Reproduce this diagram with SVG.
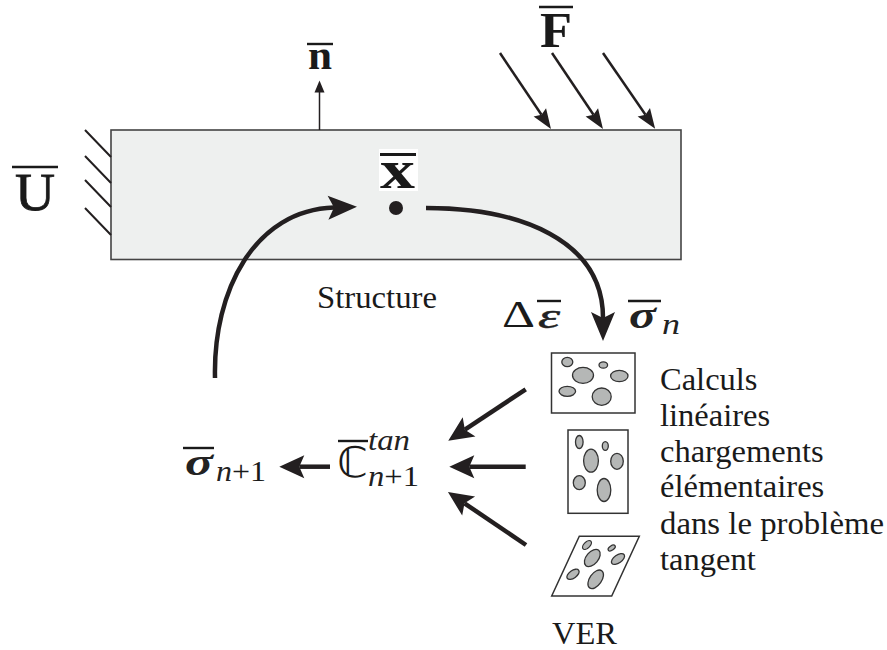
<svg xmlns="http://www.w3.org/2000/svg" width="887" height="650" viewBox="0 0 887 650">
<style>
text{font-family:"Liberation Serif","Times New Roman",serif;fill:#1a1a1a}
.lab{font-size:32.500px}
.bar{stroke:#1a1a1a;stroke-width:2.4;fill:none}
.bold{font-weight:bold}
.mi{font-style:italic;fill:#222}
.thick{stroke:#231f20;stroke-width:4.500;fill:none}
.force{stroke:#231f20;stroke-width:2.500;fill:none}
.hatch{stroke:#231f20;stroke-width:2;fill:none}
.cell{fill:#fff;stroke:#333;stroke-width:1.500}
.inc{fill:#b5b7b6;stroke:#333;stroke-width:1.300}
</style>
<defs>
<marker id="big" markerUnits="userSpaceOnUse" markerWidth="25" markerHeight="24" refX="5" refY="12" orient="auto" overflow="visible"><path d="M25,12 L0,0.500 L5,12 L0,23.500Z" fill="#231f20"/></marker>
<marker id="bigger" markerUnits="userSpaceOnUse" markerWidth="29" markerHeight="25" refX="6" refY="12.500" orient="auto" overflow="visible"><path d="M29,12.500 L0,0.500 L6,12.500 L0,24.500Z" fill="#231f20"/></marker>
<marker id="mid" markerUnits="userSpaceOnUse" markerWidth="20" markerHeight="15" refX="3" refY="7.500" orient="auto" overflow="visible"><path d="M20,7.500 L0,0 L3,7.500 L0,15Z" fill="#231f20"/></marker>
<marker id="small" markerUnits="userSpaceOnUse" markerWidth="12" markerHeight="10" refX="0.500" refY="5" orient="auto" overflow="visible"><path d="M12,5 L0,0 L0,10Z" fill="#231f20"/></marker>
</defs>

<g id="structure">
<rect x="111" y="130" width="570" height="129.500" fill="#eef0ef" stroke="#444" stroke-width="1.600"/>
<path class="hatch" d="M85,130L111,157M85,156L111,183M85,180L111,207M85,208L111,235"/>
<text class="lab" x="317" y="308" textLength="120" lengthAdjust="spacingAndGlyphs">Structure</text>
</g>

<g id="label-U">
<line class="bar" x1="12" y1="167" x2="58" y2="167"/>
<text x="15" y="210" font-size="53" textLength="40" lengthAdjust="spacingAndGlyphs" stroke="#1a1a1a" stroke-width="0.800">U</text>
</g>
<g id="label-n">
<line class="bar" x1="307" y1="44" x2="333" y2="44"/>
<text x="308" y="69" font-size="40" class="bold" textLength="24" lengthAdjust="spacingAndGlyphs">n</text>
</g>
<g id="label-F">
<line class="bar" x1="539" y1="7" x2="573" y2="7"/>
<text x="540" y="47" font-size="50" class="bold" textLength="32" lengthAdjust="spacingAndGlyphs">F</text>
</g>
<g id="point-x">
<rect x="379" y="149" width="39" height="42" fill="#fff"/>
<line x1="380" y1="154.500" x2="416" y2="154.500" stroke="#1a1a1a" stroke-width="3"/>
<text x="380" y="188" font-size="55" class="bold" textLength="35" lengthAdjust="spacingAndGlyphs">x</text>
<circle cx="396" cy="208" r="7" fill="#231f20"/>
</g>

<g id="connectors">
<line x1="319.500" y1="130" x2="319.500" y2="92" stroke="#231f20" stroke-width="1.500" marker-end="url(#small)"/>
<line class="force" x1="500" y1="53" x2="541.500" y2="114.800" marker-end="url(#mid)"/>
<line class="force" x1="552" y1="53" x2="593.500" y2="114.800" marker-end="url(#mid)"/>
<line class="force" x1="603" y1="53" x2="645.500" y2="114.800" marker-end="url(#mid)"/>
<path class="thick" d="M215,378C213,290 255,210 334,207.500" marker-end="url(#bigger)"/>
<path class="thick" d="M426,208C520,208 603,240 603,318" marker-end="url(#bigger)"/>
<line class="thick" x1="525.700" y1="389.300" x2="464.900" y2="429.700" marker-end="url(#big)"/>
<line class="thick" x1="525.700" y1="466.700" x2="469.300" y2="466.700" marker-end="url(#big)"/>
<line class="thick" x1="526" y1="545" x2="464.500" y2="503.300" marker-end="url(#big)"/>
<line class="thick" x1="330" y1="466.700" x2="299.300" y2="466.700" marker-end="url(#big)"/>
</g>

<g id="label-delta-eps">
<text x="502" y="327" font-size="38" textLength="33" lengthAdjust="spacingAndGlyphs">Δ</text>
<line class="bar" x1="537" y1="301" x2="561" y2="301"/>
<text x="538" y="328" font-size="36" class="mi" stroke="#222" stroke-width="0.500" textLength="22" lengthAdjust="spacingAndGlyphs">ε</text>
</g>
<g id="label-sigma-n">
<line class="bar" x1="628" y1="301" x2="661" y2="301"/>
<text x="629" y="328" font-size="38" class="bold mi" textLength="27" lengthAdjust="spacingAndGlyphs">σ</text>
<text x="662" y="334" font-size="29" class="mi" textLength="18" lengthAdjust="spacingAndGlyphs">n</text>
</g>

<g id="ver-1">
<rect class="cell" x="551.500" y="353" width="83.500" height="60"/>
<ellipse class="inc" cx="567.300" cy="362" rx="5.500" ry="4.700"/>
<ellipse class="inc" cx="583" cy="375.300" rx="10.500" ry="8"/>
<ellipse class="inc" cx="603.300" cy="365" rx="4.300" ry="3.200"/>
<ellipse class="inc" cx="619.300" cy="376" rx="8.700" ry="5.700"/>
<ellipse class="inc" cx="567.300" cy="391.300" rx="8.300" ry="5"/>
<ellipse class="inc" cx="601.700" cy="396.700" rx="9.500" ry="8.700"/>
</g>
<g id="ver-2">
<rect class="cell" x="568" y="430" width="60" height="83.300"/>
<ellipse class="inc" cx="579.300" cy="442" rx="3.800" ry="6.500"/>
<ellipse class="inc" cx="605.300" cy="446" rx="3" ry="4.300"/>
<ellipse class="inc" cx="591" cy="460.700" rx="7.400" ry="11.500"/>
<ellipse class="inc" cx="617" cy="461.300" rx="6.300" ry="8"/>
<ellipse class="inc" cx="579.300" cy="482.700" rx="6" ry="7"/>
<ellipse class="inc" cx="604" cy="490" rx="6.800" ry="11.500"/>
</g>
<g id="ver-3">
<polygon class="cell" points="579.300,536.300 639.300,536.300 611.700,596 551.700,596"/>
<ellipse class="inc" cx="587" cy="545" rx="5.500" ry="3" transform="rotate(-45 587 545)"/>
<ellipse class="inc" cx="611.700" cy="548" rx="4" ry="2.200" transform="rotate(-35 611.700 548)"/>
<ellipse class="inc" cx="592.300" cy="558" rx="10" ry="6" transform="rotate(-50 592.300 558)"/>
<ellipse class="inc" cx="618" cy="559" rx="7.500" ry="4" transform="rotate(-35 618 559)"/>
<ellipse class="inc" cx="573" cy="574.300" rx="7" ry="3.800" transform="rotate(-35 573 574.300)"/>
<ellipse class="inc" cx="595.700" cy="579.300" rx="10.500" ry="6" transform="rotate(-55 595.700 579.300)"/>
</g>
<text class="lab" x="552" y="644" textLength="65" lengthAdjust="spacingAndGlyphs">VER</text>

<g id="description">
<text class="lab" x="660" y="390">Calculs</text>
<text class="lab" x="660" y="426">linéaires</text>
<text class="lab" x="660" y="462">chargements</text>
<text class="lab" x="660" y="497">élémentaires</text>
<text class="lab" x="660" y="534" textLength="224" lengthAdjust="spacingAndGlyphs">dans le problème</text>
<text class="lab" x="660" y="570">tangent</text>
</g>

<g id="label-C-tan">
<line class="bar" x1="338" y1="441" x2="368" y2="441"/>
<text x="337" y="477" font-size="42" style="font-family:'DejaVu Sans',sans-serif" textLength="31" lengthAdjust="spacingAndGlyphs">ℂ</text>
<text x="368" y="450" font-size="29" class="mi" textLength="42" lengthAdjust="spacingAndGlyphs">tan</text>
<text x="368" y="486" font-size="29" textLength="51" lengthAdjust="spacingAndGlyphs"><tspan class="mi">n</tspan>+1</text>
</g>
<g id="label-sigma-n1">
<line class="bar" x1="183" y1="448" x2="214" y2="448"/>
<text x="185" y="475" font-size="38" class="bold mi" textLength="28" lengthAdjust="spacingAndGlyphs">σ</text>
<text x="216" y="481" font-size="29" textLength="50" lengthAdjust="spacingAndGlyphs"><tspan class="mi">n</tspan>+1</text>
</g>
</svg>
